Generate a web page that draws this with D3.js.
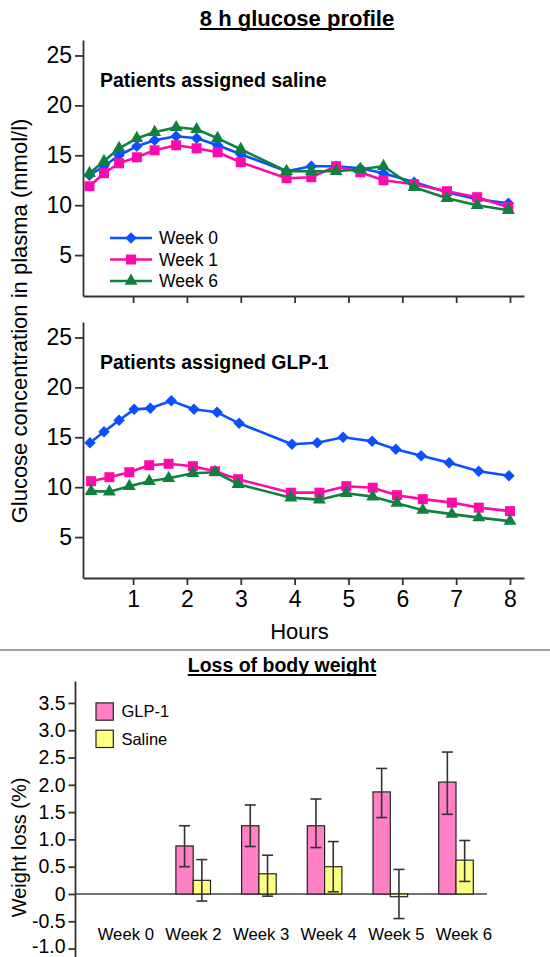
<!DOCTYPE html>
<html><head><meta charset="utf-8">
<script src="https://cdn.jsdelivr.net/npm/d3@7"></script>
<style>
body{margin:0;background:#fff;}
svg{display:block;font-family:Arial,"Liberation Sans",sans-serif;}
</style>
</head><body>
<svg id="c" width="550" height="957"></svg>
<script>
// ---------- 8 h glucose profile data ----------
const salineHours = [0.19,0.46,0.74,1.07,1.4,1.8,2.18,2.57,3.0,3.85,4.31,4.77,5.22,5.65,6.22,6.83,7.39,7.97];
const salineWeek0 = [13.0,13.9,15.0,15.9,16.5,16.9,16.7,16.0,15.1,13.4,13.9,13.9,13.7,13.2,12.3,11.3,10.6,10.2];
const salineWeek1 = [11.9,13.2,14.2,14.8,15.5,16.0,15.7,15.3,14.3,12.7,12.8,13.9,13.3,12.5,12.1,11.4,10.8,9.8];
const salineWeek6 = [13.2,14.4,15.7,16.7,17.3,17.8,17.6,16.7,15.6,13.4,13.4,13.4,13.6,13.9,11.8,10.7,10.0,9.5];

const glpHoursWeek0 = [0.2,0.46,0.74,1.02,1.32,1.71,2.13,2.56,2.97,3.95,4.42,4.9,5.44,5.88,6.35,6.87,7.42,7.98];
const glpWeek0 = [14.45,15.55,16.7,17.8,17.9,18.65,17.8,17.5,16.4,14.3,14.45,15.0,14.6,13.8,13.15,12.45,11.6,11.15];
const glpHoursWeek16 = [0.22,0.56,0.93,1.3,1.66,2.11,2.52,2.95,3.93,4.46,4.96,5.45,5.9,6.38,6.92,7.42,8.0];
const glpWeek1 = [10.6,11.0,11.5,12.2,12.35,12.1,11.6,10.8,9.45,9.45,10.1,9.95,9.2,8.8,8.45,7.95,7.6];
const glpWeek6 = [9.6,9.55,10.1,10.6,10.9,11.4,11.5,10.3,8.95,8.75,9.4,9.05,8.4,7.7,7.3,6.95,6.6];

const glucoseTicks = [5,10,15,20,25];
const hourTicks = [1,2,3,4,5,6,7,8];
const seriesNames = ["Week 0","Week 1","Week 6"];

// ---------- Loss of body weight data ----------
const weeks = ["Week 0","Week 2","Week 3","Week 4","Week 5","Week 6"];
const glpLoss  = [0, 0.88, 1.25, 1.25, 1.87, 2.05];
const glpUpper = [0, 1.25, 1.63, 1.74, 2.30, 2.60];
const glpLower = [0, 0.50, 0.87, 0.85, 1.40, 1.46];
const salineLoss  = [0, 0.25, 0.37, 0.50, -0.05, 0.62];
const salineUpper = [0, 0.63, 0.71, 0.96, 0.45, 0.98];
const salineLower = [0, -0.13, -0.04, 0.04, -0.45, 0.23];
const lossTicks = [-1.0,-0.5,0,0.5,1.0,1.5,2.0,2.5,3.0,3.5];
const groupNames = ["GLP-1","Saline"];

// ---------- styles ----------
const colors = {"Week 0":"#0a50ff","Week 1":"#ff0aaa","Week 6":"#108040"};
const barColors = {"GLP-1":"#ff80c4","Saline":"#ffff82"};
const axisColor = "#333";
const FONT = "Arial, 'Liberation Sans', sans-serif";

const svg = d3.select("#c");

function underlinedTitle(txt, cx, y, size){
  const t = svg.append("text").attr("x",cx).attr("y",y).attr("text-anchor","middle")
    .attr("font-weight","bold").attr("font-size",size).attr("fill","#000").text(txt);
  const w = t.node().getComputedTextLength();
  svg.append("line").attr("x1",cx-w/2).attr("x2",cx+w/2).attr("y1",y+3).attr("y2",y+3)
    .attr("stroke","#000").attr("stroke-width",2);
}

function markerPath(name){
  if(name==="Week 0") return d3.symbol(d3.symbolSquare, 66)();
  if(name==="Week 1") return d3.symbol(d3.symbolSquare, 100)();
  return d3.symbol(d3.symbolTriangle, 72)();
}
function markerRot(name){ return name==="Week 0" ? 45 : 0; }

// ---------- line panels ----------
const x = d3.scaleLinear().domain([0.07, 8.26]).range([83, 524]);

function panel(top, subtitle, series, showLabels, legend){
  const y = d3.scaleLinear().domain([0.9, 26.55]).range([top+256, top]);
  const g = svg.append("g");
  const ya = g.append("g").attr("transform","translate(83,0)")
    .call(d3.axisLeft(y).tickValues(glucoseTicks).tickSize(8).tickPadding(3).tickSizeOuter(0).tickFormat(d3.format("d")));
  const xa = g.append("g").attr("transform",`translate(0,${top+256})`)
    .call(d3.axisBottom(x).tickValues(hourTicks).tickSize(7).tickPadding(6).tickSizeOuter(0)
      .tickFormat(showLabels ? d3.format("d") : ""));
  [ya,xa].forEach(a=>{
    a.select(".domain").attr("stroke",axisColor).attr("stroke-width",1.8);
    a.selectAll(".tick line").attr("stroke",axisColor).attr("stroke-width",1.8);
    a.selectAll(".tick text").attr("font-size",23).attr("fill","#000").attr("font-family",FONT);
  });
  g.append("text").attr("x",100).attr("y",top+47).attr("font-weight","bold").attr("font-size",19.5)
    .attr("fill","#000").text(subtitle);

  const line = d3.line().x(d=>x(d[0])).y(d=>y(d[1]));
  series.forEach(s=>{
    const pts = s.hours.map((h,i)=>[h,s.values[i]]);
    g.append("path").attr("d",line(pts)).attr("fill","none").attr("stroke",colors[s.name])
      .attr("stroke-width",2.6).attr("stroke-linejoin","round");
    g.selectAll(null).data(pts).join("path")
      .attr("d",markerPath(s.name))
      .attr("transform",d=>`translate(${x(d[0])},${y(d[1])}) rotate(${markerRot(s.name)})`)
      .attr("fill",colors[s.name]);
  });

  if(legend){
    const ly = [238, 259.5, 281];
    seriesNames.forEach((n,i)=>{
      g.append("line").attr("x1",110).attr("x2",152).attr("y1",ly[i]).attr("y2",ly[i])
        .attr("stroke",colors[n]).attr("stroke-width",2.6);
      g.append("path").attr("d",markerPath(n))
        .attr("transform",`translate(131,${ly[i]}) rotate(${markerRot(n)})`).attr("fill",colors[n]);
      g.append("text").attr("x",159).attr("y",ly[i]).attr("dy","0.36em").attr("font-size",17.5)
        .attr("fill","#000").text(n);
    });
  }
  return y;
}

underlinedTitle("8 h glucose profile", 297, 26, 22);

panel(40, "Patients assigned saline", [
  {name:"Week 0", hours:salineHours, values:salineWeek0},
  {name:"Week 1", hours:salineHours, values:salineWeek1},
  {name:"Week 6", hours:salineHours, values:salineWeek6}
], false, true);

panel(322, "Patients assigned GLP-1", [
  {name:"Week 0", hours:glpHoursWeek0, values:glpWeek0},
  {name:"Week 1", hours:glpHoursWeek16, values:glpWeek1},
  {name:"Week 6", hours:glpHoursWeek16, values:glpWeek6}
], true, false);

svg.append("text").attr("x",299.5).attr("y",639).attr("text-anchor","middle").attr("font-size",22)
  .attr("fill","#000").text("Hours");
svg.append("text").attr("transform","translate(19,321) rotate(-90)").attr("text-anchor","middle")
  .attr("dy","0.36em").attr("font-size",22).attr("fill","#000")
  .text("Glucose concentration in plasma (mmol/l)");

// separator
svg.append("line").attr("x1",0).attr("x2",550).attr("y1",650).attr("y2",650)
  .attr("stroke","#97a9a2").attr("stroke-width",2);

// ---------- bar chart ----------
underlinedTitle("Loss of body weight", 282, 672, 19.5);

const yb = d3.scaleLinear().domain([-1.16, 3.9]).range([957.3, 681.1]);
const xb = d3.scaleBand().domain(weeks).range([94.65, 488.85]);
const xInner = d3.scaleBand().domain(groupNames).range([-17.3, 17.3]);
const xl = d3.scalePoint().domain(weeks).range([125.8, 464]);

const fmt = v => v===0 ? "0" : d3.format(".1f")(v).replace("\u2212","-");
const yba = svg.append("g").attr("transform","translate(75,0)")
  .call(d3.axisLeft(yb).tickValues(lossTicks).tickSize(6.5).tickPadding(3).tickSizeOuter(0).tickFormat(fmt));
yba.select(".domain").attr("stroke",axisColor).attr("stroke-width",1.8);
yba.selectAll(".tick line").attr("stroke",axisColor).attr("stroke-width",1.8);
yba.selectAll(".tick text").attr("font-size",19.5).attr("fill","#000").attr("font-family",FONT);
// keep the lowest label fully inside the picture
yba.selectAll(".tick text").filter(d=>d===-1.0).attr("dy","0.2em");

// zero line
svg.append("line").attr("x1",75).attr("x2",487).attr("y1",yb(0)).attr("y2",yb(0))
  .attr("stroke","#444").attr("stroke-width",1.6);

const barData = [];
weeks.forEach((w,i)=>{
  barData.push({week:w, group:"GLP-1", v:glpLoss[i], hi:glpUpper[i], lo:glpLower[i]});
  barData.push({week:w, group:"Saline", v:salineLoss[i], hi:salineUpper[i], lo:salineLower[i]});
});
const drawn = barData.filter(d=>d.v!==0);
svg.selectAll(null).data(drawn).join("rect")
  .attr("x",d=>xb(d.week)+xb.bandwidth()/2+xInner(d.group))
  .attr("width",xInner.bandwidth())
  .attr("y",d=>yb(Math.max(0,d.v)))
  .attr("height",d=>Math.abs(yb(d.v)-yb(0)))
  .attr("fill",d=>barColors[d.group]).attr("stroke","#222").attr("stroke-width",1.2);

const eb = svg.selectAll(null).data(drawn).join("g")
  .attr("transform",d=>`translate(${xb(d.week)+xb.bandwidth()/2+xInner(d.group)+xInner.bandwidth()/2},0)`)
  .attr("stroke","#333").attr("stroke-width",1.6);
eb.append("line").attr("y1",d=>yb(d.hi)).attr("y2",d=>yb(d.lo));
eb.append("line").attr("x1",-5.5).attr("x2",5.5).attr("y1",d=>yb(d.hi)).attr("y2",d=>yb(d.hi));
eb.append("line").attr("x1",-5.5).attr("x2",5.5).attr("y1",d=>yb(d.lo)).attr("y2",d=>yb(d.lo));

// category labels
svg.selectAll(null).data(weeks).join("text")
  .attr("x",d=>xl(d)).attr("y",940).attr("text-anchor","middle").attr("font-size",16.7)
  .attr("fill","#000").text(d=>d);

// legend
groupNames.forEach((n,i)=>{
  const cy = 711.5 + i*27.3;
  svg.append("rect").attr("x",96).attr("y",cy-8.6).attr("width",17.3).attr("height",17.3)
    .attr("fill",barColors[n]).attr("stroke","#222").attr("stroke-width",1.2);
  svg.append("text").attr("x",121.4).attr("y",cy).attr("dy","0.36em").attr("font-size",16.5)
    .attr("fill","#000").text(n);
});

svg.append("text").attr("transform","translate(19,847.5) rotate(-90)").attr("text-anchor","middle")
  .attr("dy","0.36em").attr("font-size",20).attr("fill","#000").text("Weight loss (%)");
</script>
</body></html>
